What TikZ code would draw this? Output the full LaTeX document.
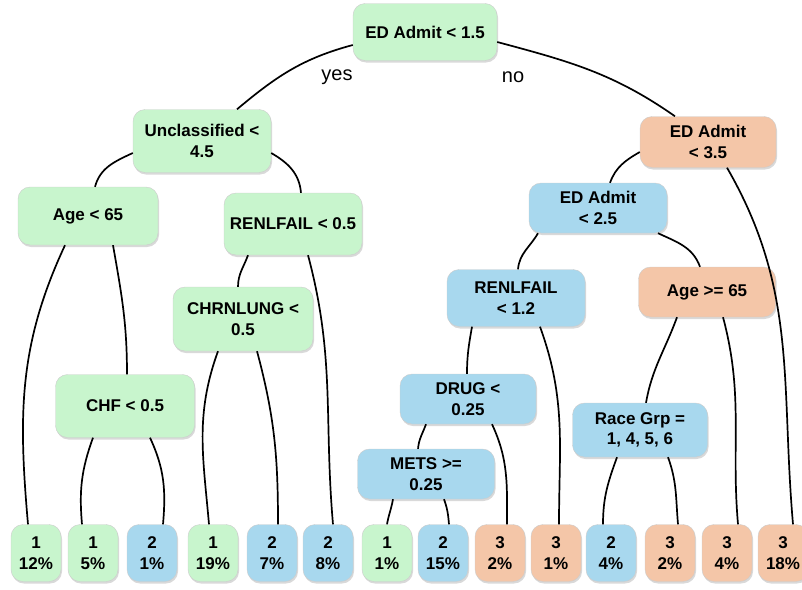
\documentclass[tikz,border=0pt]{standalone}
\usepackage{fontspec}
\setmainfont{Liberation Sans}
\usetikzlibrary{shadows}
\definecolor{leafgreen}{HTML}{C8F5CD}
\definecolor{leafblue}{HTML}{A8D8EE}
\definecolor{leaforange}{HTML}{F4C6A8}
\begin{document}
\begin{tikzpicture}[x=1pt,y=-1pt,
  box/.style={rounded corners=12pt,draw=black!20,line width=0.4pt,
    drop shadow={shadow xshift=1pt,shadow yshift=-2pt,opacity=0.3},
    align=center,inner sep=2pt,font=\fontsize{17}{20.5}\selectfont\bfseries},
  greenbox/.style={box,fill=leafgreen},
  bluebox/.style={box,fill=leafblue},
  orangebox/.style={box,fill=leaforange},
  leaf/.style={minimum width=50pt,minimum height=57pt},
  edge/.style={line width=1.7pt}]
\useasboundingbox (0,0) rectangle (802,589);
% split nodes
\node[greenbox,minimum width=144pt,minimum height=57pt] (root) at (425,32) {ED Admit < 1.5};
\node[greenbox,minimum width=138pt,minimum height=63pt] (unc) at (202,141) {Unclassified <\\4.5};
\node[greenbox,minimum width=140pt,minimum height=58pt] (age) at (88,216) {Age < 65};
\node[greenbox,minimum width=138pt,minimum height=62pt] (renla) at (293,224) {RENLFAIL < 0.5};
\node[greenbox,minimum width=140pt,minimum height=64pt] (chrn) at (243,319) {CHRNLUNG <\\0.5};
\node[greenbox,minimum width=139pt,minimum height=63pt] (chf) at (125,406) {CHF < 0.5};
\node[orangebox,minimum width=136pt,minimum height=51pt] (edc) at (708,142) {ED Admit\\< 3.5};
\node[bluebox,minimum width=138pt,minimum height=50pt] (edb) at (598,208) {ED Admit\\< 2.5};
\node[orangebox,minimum width=137pt,minimum height=50pt] (ageb) at (707,292) {Age >= 65};
\node[bluebox,minimum width=138pt,minimum height=57pt] (renlb) at (516,298) {RENLFAIL\\< 1.2};
\node[bluebox,minimum width=136pt,minimum height=50pt] (drug) at (468,399) {DRUG <\\0.25};
\node[bluebox,minimum width=137pt,minimum height=50pt] (mets) at (426,474) {METS >=\\0.25};
\node[bluebox,minimum width=135pt,minimum height=54pt] (race) at (640,430) {Race Grp =\\1, 4, 5, 6};
% leaves
\foreach \x/\c/\p/\col [count=\i] in {36/1/12/leafgreen,93/1/5/leafgreen,152/2/1/leafblue,
    213/1/19/leafgreen,272/2/7/leafblue,328/2/8/leafblue,387/1/1/leafgreen,443/2/15/leafblue,
    500/3/2/leaforange,556/3/1/leaforange,611/2/4/leafblue,670/3/2/leaforange,
    727/3/4/leaforange,783/3/18/leaforange}
  \node[box,leaf,fill=\col] (l\i) at (\x,553) {\c\\\p\%};
\node[font=\fontsize{20}{24}\selectfont] (yes) at (337,77) {yes};
\node[font=\fontsize{20}{24}\selectfont] (no) at (513,77) {no};
% branches
\draw[edge] ([yshift=-13pt]root.west) to[out=195,in=40] ([xshift=35pt]unc.north);
\draw[edge] ([yshift=-10pt]root.east) to[out=-15,in=145] ([xshift=-33pt]edc.north);
\draw[edge] ([yshift=-12pt]unc.west) to[out=205,in=75] ([xshift=7pt]age.north);
\draw[edge] ([yshift=-12pt]unc.east) to[out=-30,in=95] ([xshift=8pt]renla.north);
\draw[edge] ([xshift=-23pt]age.south) to[out=245,in=95] ([xshift=-8pt]l1.north);
\draw[edge] ([xshift=25pt]age.south) to[out=280,in=90] ([xshift=2pt]chf.north);
\draw[edge] ([xshift=-32pt]chf.south) to[out=250,in=95] ([xshift=-11pt]l2.north);
\draw[edge] ([xshift=25pt]chf.south) to[out=295,in=85] ([xshift=11pt]l3.north);
\draw[edge] ([xshift=-45pt]renla.south) to[out=250,in=90] ([xshift=-5pt]chrn.north);
\draw[edge] ([xshift=15pt]renla.south) to[out=285,in=95] ([xshift=5pt]l6.north);
\draw[edge] ([xshift=-25pt]chrn.south) to[out=250,in=95] ([xshift=-4pt]l4.north);
\draw[edge] ([xshift=14pt]chrn.south) to[out=285,in=90] ([xshift=6pt]l5.north);
\draw[edge] ([yshift=-10pt]edc.west) to[out=210,in=70] ([xshift=12pt]edb.north);
\draw[edge] ([xshift=19pt]edc.south) to[out=300,in=95] ([xshift=10pt]l14.north);
\draw[edge] ([xshift=-60pt]edb.south) to[out=240,in=85] ([xshift=2pt]renlb.north);
\draw[edge] ([xshift=60pt]edb.south) to[out=-25,in=110] ([xshift=-7pt]ageb.north);
\draw[edge] ([xshift=-44pt]renlb.south) to[out=260,in=90] ([xshift=-1pt]drug.north);
\draw[edge] ([xshift=24pt]renlb.south) to[out=290,in=90] ([xshift=3pt]l10.north);
\draw[edge] ([xshift=-42pt]drug.south) to[out=250,in=85] ([xshift=-8pt]mets.north);
\draw[edge] ([xshift=24pt]drug.south) to[out=295,in=90] ([xshift=7pt]l9.north);
\draw[edge] ([xshift=-33pt]mets.south) to[out=260,in=80] (l7.north);
\draw[edge] ([xshift=18pt]mets.south) to[out=290,in=95] ([xshift=6pt]l8.north);
\draw[edge] ([xshift=-30pt]ageb.south) to[out=250,in=80] ([xshift=6pt]race.north);
\draw[edge] ([xshift=16pt]ageb.south) to[out=285,in=95] ([xshift=11pt]l13.north);
\draw[edge] ([xshift=-23pt]race.south) to[out=250,in=90] ([xshift=-8pt]l11.north);
\draw[edge] ([xshift=28pt]race.south) to[out=290,in=95] ([xshift=8pt]l12.north);
\end{tikzpicture}
\end{document}
